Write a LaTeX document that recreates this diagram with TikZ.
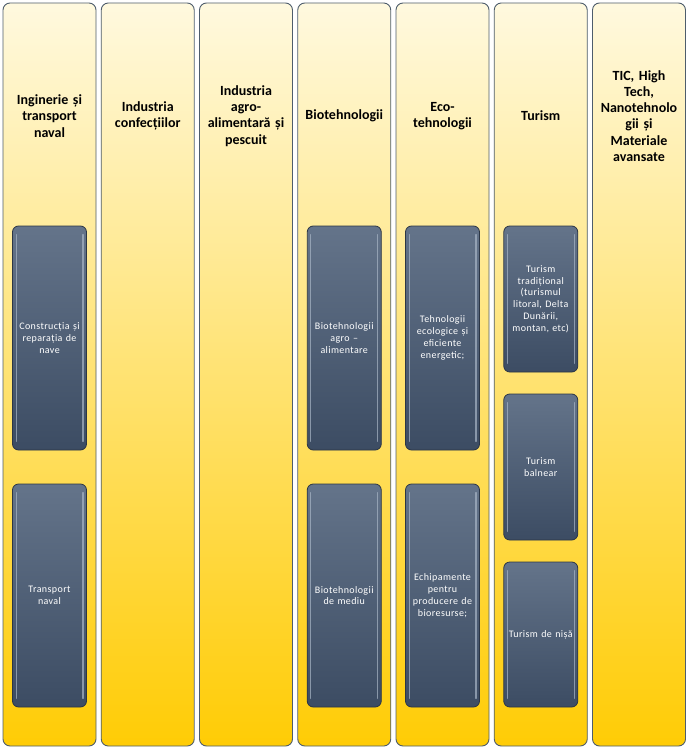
\documentclass[tikz,border=0pt]{standalone}
\usepackage{fontspec}
\setmainfont{Carlito}
\usetikzlibrary{positioning}
\definecolor{ColTop}{HTML}{FFF9DF}
\definecolor{ColBottom}{HTML}{FFCC05}
\definecolor{ColLine}{HTML}{4E5D6C}
\definecolor{BoxTop}{HTML}{64748A}
\definecolor{BoxBottom}{HTML}{3C4C63}
\definecolor{BoxLine}{HTML}{2C3645}
\definecolor{BoxShine}{HTML}{A9B6C6}

\begin{document}
\begin{tikzpicture}[x=1pt,y=-1pt,
    column/.style={rounded corners=7pt,top color=ColTop,bottom color=ColBottom,draw=ColLine,line width=0.9pt,minimum width=93pt,minimum height=743pt,inner sep=0pt},
    header/.style={text width=90pt,align=center,font=\fontsize{14}{16.2}\selectfont\bfseries},
    item/.style={rounded corners=6pt,top color=BoxTop,bottom color=BoxBottom,draw=BoxLine,line width=0.8pt,minimum width=74pt,text width=74pt,inner sep=0pt,align=center,text=white,font=\fontsize{10}{11.8}\selectfont\addfontfeatures{LetterSpace=4}},
    shine/.style={draw=BoxShine,line width=1.2pt,line cap=round,opacity=0.7}]
  \useasboundingbox (0,0) rectangle (691,749);
  % columns
  \foreach \i in {1,...,7}
    \node[column] (col\i) at ({49.5+(\i-1)*98.25},374.5) {};
  % column titles
  \node[header] (h1) at (col1 |- 0,116) {Inginerie și\\transport\\naval};
  \node[header] (h2) at (col2 |- 0,116) {Industria\\confecțiilor};
  \node[header] (h3) at (col3 |- 0,116) {Industria\\agro-\\alimentară și\\pescuit};
  \node[header] (h4) at (col4 |- 0,116) {Biotehnologii};
  \node[header] (h5) at (col5 |- 0,116) {Eco-\\tehnologii};
  \node[header] (h6) at (col6 |- 0,116) {Turism};
  \node[header] (h7) at (col7 |- 0,116) {TIC, High\\Tech,\\Nanotehnolo\\gii și\\Materiale\\avansate};
  % sub-boxes
  \node[item,minimum height=224pt] (naveA) at (col1 |- 0,338) {Construcția și\\reparația de\\nave};
  \node[item,minimum height=223pt] (naveB) at (col1 |- 0,595.5) {Transport\\naval};
  \node[item,minimum height=224pt] (bioA) at (col4 |- 0,338) {Biotehnologii\\agro --\\alimentare};
  \node[item,minimum height=223pt] (bioB) at (col4 |- 0,595.5) {Biotehnologii\\de mediu};
  \node[item,minimum height=224pt] (ecoA) at (col5 |- 0,338) {Tehnologii\\ecologice și\\eficiente\\energetic;};
  \node[item,minimum height=223pt] (ecoB) at (col5 |- 0,595.5) {Echipamente\\pentru\\producere de\\bioresurse;};
  \node[item,minimum height=146pt] (turA) at (col6 |- 0,299) {Turism\\tradițional\\(turismul\\litoral, Delta\\Dunării,\\montan, etc)};
  \node[item,minimum height=146pt] (turB) at (col6 |- 0,467) {Turism\\balnear};
  \node[item,minimum height=145pt] (turC) at (col6 |- 0,634.5) {Turism de nișă};
  % glossy edges
  \foreach \b in {naveA,naveB,bioA,bioB,ecoA,ecoB,turA,turB,turC} {
    \draw[shine] ([xshift=4pt,yshift=-9pt]\b.north west) -- ([xshift=4pt,yshift=9pt]\b.south west);
    \draw[shine] ([xshift=-4pt,yshift=-9pt]\b.north east) -- ([xshift=-4pt,yshift=9pt]\b.south east);
  }
\end{tikzpicture}
\end{document}
